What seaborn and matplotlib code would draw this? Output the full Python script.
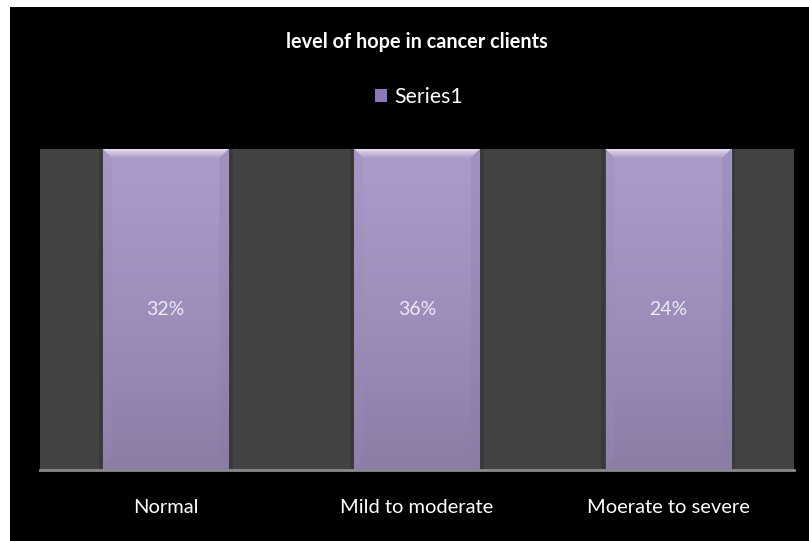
import numpy as np
import pandas as pd
import matplotlib
matplotlib.use("Agg")
import matplotlib.pyplot as plt
import seaborn as sns
from matplotlib.patches import Rectangle, Polygon, Patch
from matplotlib.colors import LinearSegmentedColormap

# ---- data ----
categories = ["Normal", "Mild to moderate", "Moerate to severe"]
values = [32, 36, 24]
value_labels = ["32%", "36%", "24%"]
series_name = "Series1"
title = "level of hope in cancer clients"

df = pd.DataFrame({"category": categories, "value": values})
# 100% stacked column with a single series: every column fills its category
df["share"] = df["value"] / df["value"]

sns.set_theme(style="dark")
plt.rcParams["font.family"] = ["Lato", "DejaVu Sans"]

W, H = 809, 541
fig = plt.figure(figsize=(W / 100, H / 100), dpi=100, facecolor="white")
fig.patches.append(Rectangle((10 / W, 0), 1, (H - 7) / H, transform=fig.transFigure,
                             facecolor="black", edgecolor="none", zorder=-10))

ax_left, ax_right, ax_top, ax_bot = 40, 794, 149, 470
ax = fig.add_axes([ax_left / W, 1 - ax_bot / H, (ax_right - ax_left) / W, (ax_bot - ax_top) / H])
ax.set_zorder(5)
ax.set_facecolor("#434343")

sns.barplot(data=df, x="category", y="share", order=categories, width=0.5,
            color="#A596C4", saturation=1, edgecolor="none", ax=ax, zorder=2)
ax.set_xlim(-0.5, len(categories) - 0.5)
ax.set_ylim(0, 1)

# gradient fill + top bevel on each bar
cmap = LinearSegmentedColormap.from_list("lav", ["#8C7DA6", "#9D8EBC", "#AB9CCB"])
grad = np.linspace(0, 1, 256).reshape(-1, 1)
bevel_cmap = LinearSegmentedColormap.from_list("bev", ["#AB9CCB", "#E6DDF2"])
px_x = (len(categories)) / (ax_right - ax_left)
px_y = 1.0 / (ax_bot - ax_top)
for p in list(ax.patches):
    x0, y0 = p.get_x(), p.get_y()
    w, h = p.get_width(), p.get_height()
    # soft shadow beside the bar
    ax.add_patch(Rectangle((x0 - 4 * px_x, y0), w + 8 * px_x, h, facecolor="#393939",
                           edgecolor="none", zorder=1.5))
    im = ax.imshow(grad, cmap=cmap, aspect="auto", origin="lower",
                   extent=[x0, x0 + w, y0, y0 + h], zorder=3)
    im.set_clip_path(p)
    bh = 9 * px_y
    bx = 9 * px_x
    bev = Polygon([(x0, y0 + h), (x0 + w, y0 + h), (x0 + w - bx, y0 + h - bh),
                   (x0 + bx, y0 + h - bh)], closed=True, facecolor="none",
                  edgecolor="none", zorder=4)
    ax.add_patch(bev)
    bim = ax.imshow(grad, cmap=bevel_cmap, aspect="auto", origin="lower",
                    extent=[x0, x0 + w, y0 + h - bh, y0 + h], zorder=4)
    bim.set_clip_path(bev)
    ax.add_patch(Polygon([(x0, y0 + h), (x0 + bx, y0 + h - bh), (x0 + bx, y0 + 2 * bh),
                          (x0, y0)], closed=True, facecolor="#9A8BB8", edgecolor="none",
                         alpha=0.3, zorder=4))
    ax.add_patch(Polygon([(x0 + w, y0 + h), (x0 + w - bx, y0 + h - bh),
                          (x0 + w - bx, y0 + 2 * bh), (x0 + w, y0)], closed=True,
                         facecolor="#8A7BA6", edgecolor="none", alpha=0.3, zorder=4))

ax.bar_label(ax.containers[0], labels=value_labels, label_type="center",
             color="#EEE8F5", fontsize=14, zorder=6)

for s in ["top", "left", "right"]:
    ax.spines[s].set_visible(False)
ax.spines["bottom"].set_color("#8A8A8A")
ax.spines["bottom"].set_linewidth(2)
ax.spines["bottom"].set_zorder(7)
ax.set_xlabel("")
ax.set_ylabel("")
ax.set_yticks([])
ax.tick_params(axis="x", length=0, pad=21, colors="white", labelsize=14.5)
ax.grid(False)

fig.text((ax_left + ax_right) / 2 / W, 1 - 42 / H, title, ha="center", va="center",
         color="white", fontsize=14.3, fontweight="bold")
fig.legend(handles=[Patch(facecolor="#8C78B8", edgecolor="none", label=series_name)],
           loc="center", bbox_to_anchor=(419 / W, 1 - 97 / H),
           frameon=False, fontsize=15.3, labelcolor="white", handlelength=0.55,
           handleheight=0.55, handletextpad=0.35)

fig.savefig("out.png", dpi=100, facecolor=fig.get_facecolor())
